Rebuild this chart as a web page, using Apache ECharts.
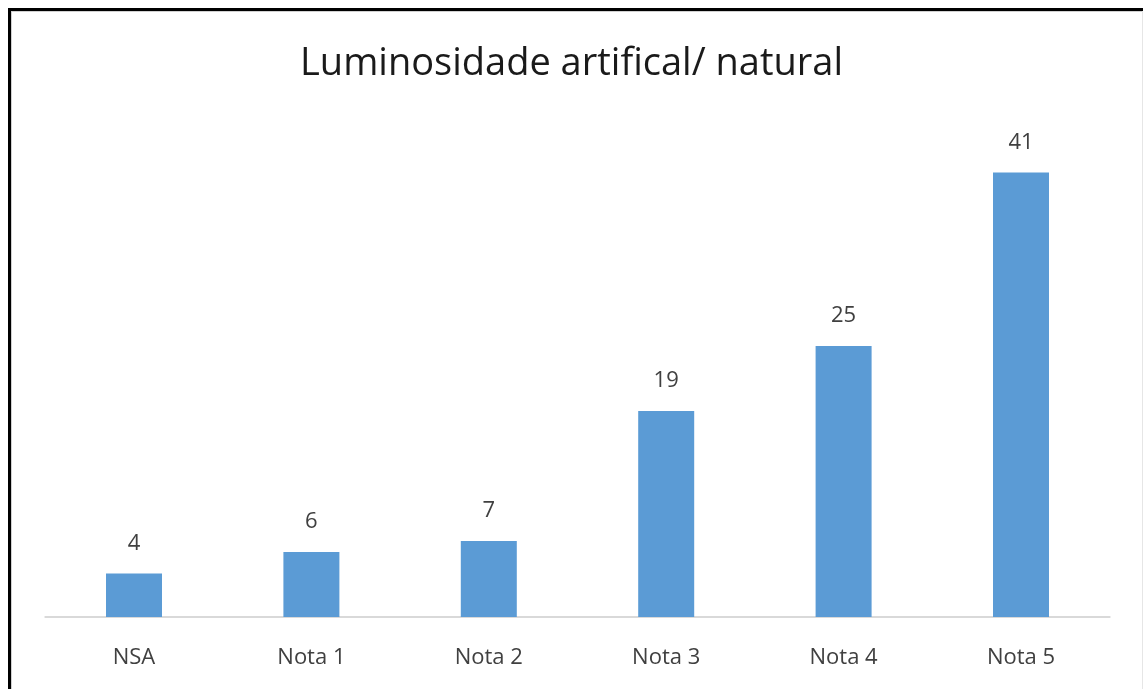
<!DOCTYPE html>
<html><head><meta charset="utf-8">
<script src="https://cdn.jsdelivr.net/npm/echarts@6/dist/echarts.min.js"></script>
<style>html,body{margin:0;padding:0;background:#fff}#c{width:1143px;height:689px}</style>
</head><body><div id="c"></div>
<script>
const titleText = "Luminosidade artifical/ natural";
const categories = ["NSA", "Nota 1", "Nota 2", "Nota 3", "Nota 4", "Nota 5"];
const values = [4, 6, 7, 19, 25, 41];
const yMax = 45;

const chart = echarts.init(document.getElementById('c'));
chart.setOption({
  backgroundColor: '#fff',
  animation: false,
  title: {
    text: titleText, left: 'center', top: 40,
    textStyle: {fontFamily: 'Open Sans', fontWeight: 'normal', fontSize: 38, color: '#1a1a1a'}
  },
  graphic: [
    {type: 'line', shape: {x1: 9.5, y1: 8, x2: 9.5, y2: 689}, style: {stroke: '#000', lineWidth: 3}},
    {type: 'line', shape: {x1: 8, y1: 9.5, x2: 1143, y2: 9.5}, style: {stroke: '#000', lineWidth: 3}},
    {type: 'line', shape: {x1: 11.5, y1: 11, x2: 11.5, y2: 689}, style: {stroke: '#d0d0d0', lineWidth: 1}},
    {type: 'line', shape: {x1: 11, y1: 11.5, x2: 1143, y2: 11.5}, style: {stroke: '#d0d0d0', lineWidth: 1}},
    {type: 'line', shape: {x1: 1142.5, y1: 11, x2: 1142.5, y2: 689}, style: {stroke: '#e6e6e6', lineWidth: 1}}
  ],
  grid: {left: 45.3, width: 1064.4, top: 129, height: 488},
  xAxis: {
    type: 'category', data: categories,
    axisLine: {lineStyle: {color: '#d9d9d9', width: 2}},
    axisTick: {show: false},
    axisLabel: {margin: 30, fontFamily: 'Open Sans', fontSize: 22, color: '#404040'}
  },
  yAxis: {type: 'value', min: 0, max: yMax, show: false, splitLine: {show: false}},
  series: [{
    type: 'bar', data: values, barWidth: 56,
    itemStyle: {color: '#5b9bd5'},
    label: {show: true, position: 'top', distance: 19, fontFamily: 'Open Sans', fontSize: 22, color: '#404040'}
  }]
});
</script></body></html>
